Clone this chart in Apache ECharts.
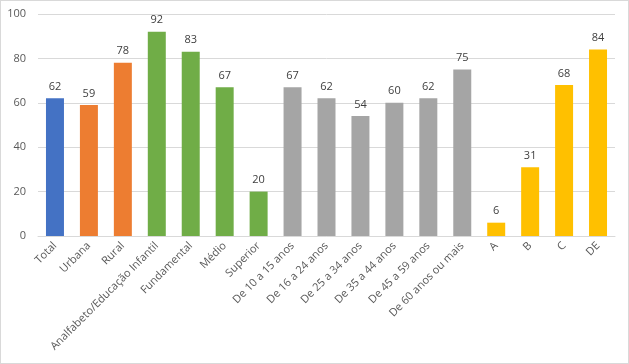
<!DOCTYPE html>
<html><head><meta charset="utf-8">
<script src="https://cdn.jsdelivr.net/npm/echarts@6/dist/echarts.min.js"></script>
<style>html,body{margin:0;padding:0;background:#fff}#c{width:627px;height:362px;border:1px solid #d9d9d9}</style>
</head><body><div id="c"></div>
<script>
const categories = ["Total","Urbana","Rural","Analfabeto/Educação Infantil","Fundamental","Médio","Superior","De 10 a 15 anos","De 16 a 24 anos","De 25 a 34 anos","De 35 a 44 anos","De 45 a 59 anos","De 60 anos ou mais","A","B","C","DE"];
const values = [62,59,78,92,83,67,20,67,62,54,60,62,75,6,31,68,84];
const groupColors = ["#4472C4","#ED7D31","#ED7D31","#70AD47","#70AD47","#70AD47","#70AD47","#A5A5A5","#A5A5A5","#A5A5A5","#A5A5A5","#A5A5A5","#A5A5A5","#FFC000","#FFC000","#FFC000","#FFC000"];
const yTicks = [0,20,40,60,80,100];
const chart = echarts.init(document.getElementById('c'));
const font = '"Open Sans", "Noto Sans", sans-serif';
chart.setOption({
  animation:false,
  grid:{left:37,right:13,top:13,bottom:127,containLabel:false},
  xAxis:{type:'category',data:categories,
    axisLine:{lineStyle:{color:'#d9d9d9'}},axisTick:{show:false},
    axisLabel:{rotate:45,interval:0,color:'#595959',fontSize:11,fontFamily:font,margin:8}},
  yAxis:{type:'value',min:yTicks[0],max:yTicks[yTicks.length-1],interval:20,
    axisLine:{show:false},axisTick:{show:false},
    splitLine:{lineStyle:{color:'#d9d9d9'}},
    axisLabel:{color:'#595959',fontSize:11,fontFamily:font,margin:12}},
  series:[{type:'bar',barWidth:'53%',
    data:values.map((v,i)=>({value:v,itemStyle:{color:groupColors[i]}})),
    label:{show:true,position:'top',color:'#404040',fontSize:11,fontFamily:font,distance:6}}]
});
</script></body></html>
